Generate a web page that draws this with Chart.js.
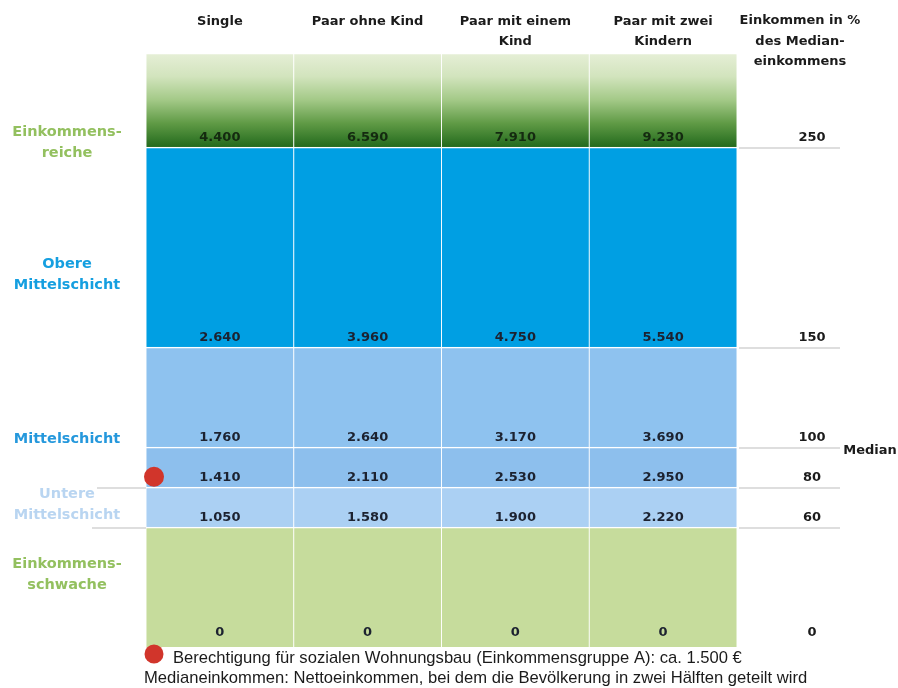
<!DOCTYPE html>
<html lang="de">
<head>
<meta charset="utf-8">
<title>Einkommensschichten</title>
<script src="https://cdn.jsdelivr.net/npm/chart.js@4.4.1/dist/chart.umd.min.js"></script>
<style>
  body { margin: 0; background: #fff; }
  #grafico { display: block; }
</style>
</head>
<body>
<canvas id="grafico" width="898" height="688"></canvas>
<script>
//Haushaltstypen (Spalten)
const haushalte = ['Single', 'Paar ohne Kind', 'Paar mit einem Kind', 'Paar mit zwei Kindern'];
const kopfzeilen = [['Single'], ['Paar ohne Kind'], ['Paar mit einem', 'Kind'], ['Paar mit zwei', 'Kindern']];

//Grenzen in % des Medianeinkommens
const grenzen = [0, 60, 80, 100, 150, 250];
const obergrenze = 297;

//Nettoeinkommen in Euro an jeder Grenze
const single = [0, 1050, 1410, 1760, 2640, 4400];
const paarOhneKind = [0, 1580, 2110, 2640, 3960, 6590];
const paarEinKind = [0, 1900, 2530, 3170, 4750, 7910];
const paarZweiKinder = [0, 2220, 2950, 3690, 5540, 9230];
const einkommen = [single, paarOhneKind, paarEinKind, paarZweiKinder];

//Schichten von unten nach oben
const schichten = ['Einkommensschwache', 'Untere Mittelschicht', 'Mittelschicht (80-100)', 'Mittelschicht', 'Obere Mittelschicht', 'Einkommensreiche'];
const farben = ['#c6dc9c', '#abd0f3', '#8dbfed', '#8ec2ef', '#009fe3', null];

//Beschriftung links: Text, Farbe, Position in %
const schichtLabels = [
    { zeilen: ['Einkommens-', 'reiche'], farbe: '#93c05f', wert: 252 },
    { zeilen: ['Obere', 'Mittelschicht'], farbe: '#159fe0', wert: 186 },
    { zeilen: ['Mittelschicht'], farbe: '#2598dc', wert: 104 },
    { zeilen: ['Untere', 'Mittelschicht'], farbe: '#b9d5f1', wert: 71 },
    { zeilen: ['Einkommens-', 'schwache'], farbe: '#93c05f', wert: 36 }
];

//roter Punkt: Berechtigung sozialer Wohnungsbau (Single)
const wohnungsbau = 1500;
const wohnungsbauProzent = 80 + (wohnungsbau - single[2]) / (single[3] - single[2]) * 20;

const fussnoten = [
    'Berechtigung für sozialen Wohnungsbau (Einkommensgruppe A): ca. 1.500 €',
    'Medianeinkommen: Nettoeinkommen, bei dem die Bevölkerung in zwei Hälften geteilt wird'
];

function euro(v) {
    return String(v).replace(/\B(?=(\d{3})+(?!\d))/g, '.');
}

function verlauf(context) {
    const chart = context.chart;
    if (!chart.chartArea) return '#2e7a25';
    const y = chart.scales.y;
    const g = chart.ctx.createLinearGradient(0, y.getPixelForValue(250), 0, y.getPixelForValue(obergrenze));
    g.addColorStop(0, '#236a1d');
    g.addColorStop(0.25, '#5f9a45');
    g.addColorStop(0.5, '#a3c987');
    g.addColorStop(0.75, '#d2e4bd');
    g.addColorStop(1, '#e6efd7');
    return g;
}

const datasets = schichten.map((name, i) => ({
    label: name,
    stack: 'schichten',
    data: haushalte.map(() => (i + 1 < grenzen.length ? grenzen[i + 1] : obergrenze) - grenzen[i]),
    backgroundColor: farben[i] || verlauf,
    borderColor: 'rgba(255,255,255,0.6)',
    borderWidth: { top: 1.5, left: 0.8, right: 0.8, bottom: 0 },
    borderSkipped: false,
    categoryPercentage: 1,
    barPercentage: 1
}));

//Texte, Linien, Punkt und Fussnote
const beschriftung = {
    id: 'beschriftung',
    afterDraw(chart) {
        const ctx = chart.ctx;
        const x = chart.scales.x;
        const y = chart.scales.y;
        const area = chart.chartArea;
        ctx.save();
        ctx.textAlign = 'center';
        ctx.textBaseline = 'middle';

        //Kopfzeilen
        ctx.font = 'bold 13px "DejaVu Sans"';
        ctx.fillStyle = '#1b1b1b';
        kopfzeilen.forEach((zeilen, i) => {
            const cx = x.getPixelForValue(i);
            zeilen.forEach((t, j) => ctx.fillText(t, cx, 22 + j * 20));
        });
        ['Einkommen in %', 'des Median-', 'einkommens'].forEach((t, j) => ctx.fillText(t, 800, 21 + j * 20.5));

        //graue Linien rechts und links
        ctx.strokeStyle = '#dedede';
        ctx.lineWidth = 2;
        grenzen.slice(1).forEach(g => {
            const py = y.getPixelForValue(g) + 1;
            ctx.beginPath();
            ctx.moveTo(area.right + 2, py);
            ctx.lineTo(840, py);
            ctx.stroke();
        });
        [[80, 97], [60, 92]].forEach(([g, x0]) => {
            const py = y.getPixelForValue(g) + 1;
            ctx.beginPath();
            ctx.moveTo(x0, py);
            ctx.lineTo(area.left, py);
            ctx.stroke();
        });

        //Euro-Werte in den Spalten
        ctx.font = 'bold 13px "DejaVu Sans"';
        einkommen.forEach((werte, i) => {
            const cx = x.getPixelForValue(i);
            werte.forEach((w, k) => {
                const py = k === 0 ? area.bottom - 14 : y.getPixelForValue(grenzen[k]) - 9;
                ctx.fillStyle = k === 5 ? '#142a10' : '#1c2230';
                ctx.fillText(euro(w), cx, py);
            });
        });

        //Prozentwerte rechts
        ctx.fillStyle = '#1b1b1b';
        grenzen.forEach((g, k) => {
            const py = k === 0 ? area.bottom - 14 : y.getPixelForValue(g) - 9;
            ctx.fillText(String(g), 812, py);
        });
        ctx.fillText('Median', 870, y.getPixelForValue(100) + 4);

        //Schichten links
        ctx.font = 'bold 14.5px "DejaVu Sans"';
        schichtLabels.forEach(l => {
            ctx.fillStyle = l.farbe;
            const py = y.getPixelForValue(l.wert);
            const off = (l.zeilen.length - 1) * 10.5;
            l.zeilen.forEach((t, j) => ctx.fillText(t, 67, py - off + j * 21));
        });

        //roter Punkt am Single-Balken
        ctx.fillStyle = '#d1352b';
        ctx.beginPath();
        ctx.arc(area.left + 8, y.getPixelForValue(wohnungsbauProzent), 10, 0, Math.PI * 2);
        ctx.fill();

        //Fussnote
        ctx.beginPath();
        ctx.arc(154, 654, 9.5, 0, Math.PI * 2);
        ctx.fill();
        ctx.textAlign = 'left';
        ctx.fillStyle = '#1b1b1b';
        ctx.font = '16.6px "Liberation Sans"';
        ctx.fillText(fussnoten[0], 173, 658);
        ctx.fillText(fussnoten[1], 144, 678);
        ctx.restore();
    }
};

new Chart(document.getElementById('grafico').getContext('2d'), {
    type: 'bar',
    data: {
        labels: haushalte,
        datasets: datasets
    },
    options: {
        responsive: false,
        devicePixelRatio: 1,
        animation: false,
        events: [],
        layout: { padding: { left: 146, right: 161, top: 53, bottom: 41 } },
        plugins: {
            legend: { display: false },
            tooltip: { enabled: false }
        },
        scales: {
            x: { stacked: true, display: false },
            y: { stacked: true, display: false, min: 0, max: obergrenze }
        }
    },
    plugins: [beschriftung]
});
</script>
</body>
</html>
